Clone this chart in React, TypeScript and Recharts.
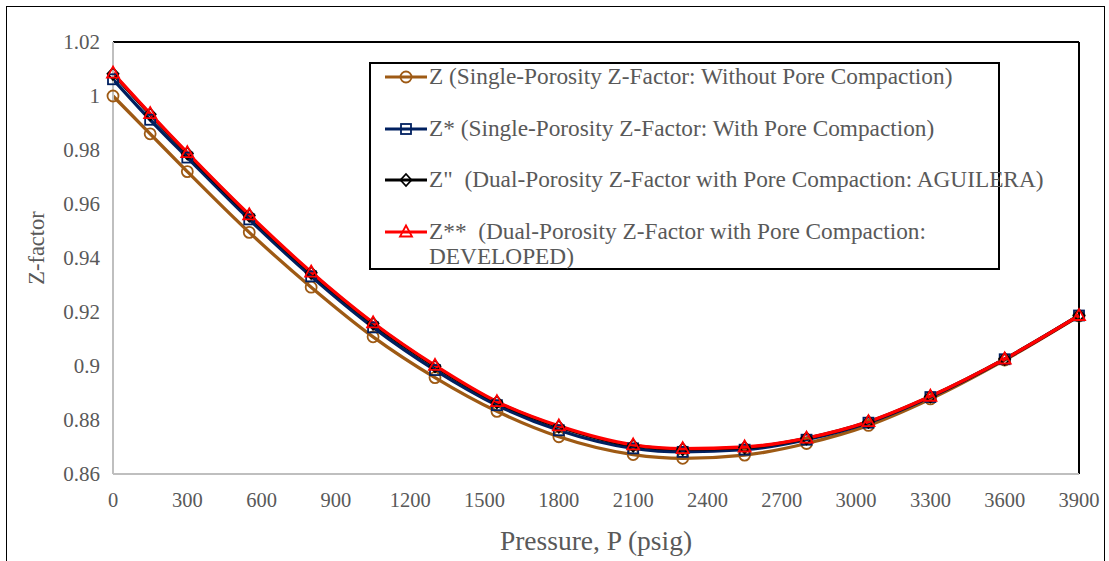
import React from 'react';
import { LineChart, Line, XAxis, YAxis, Legend, ReferenceLine } from 'recharts';

const pressures = [0, 150, 300, 550, 800, 1050, 1300, 1550, 1800, 2100, 2300, 2550, 2800, 3050, 3300, 3600, 3900];
const zSingle = [1.0, 0.986, 0.972, 0.9495, 0.9292, 0.9108, 0.8957, 0.8832, 0.8738, 0.8672, 0.8658, 0.867, 0.8713, 0.878, 0.8878, 0.9022, 0.9185];
const zSingleComp = [1.0062, 0.9912, 0.9772, 0.9543, 0.9332, 0.9143, 0.8985, 0.8855, 0.8762, 0.8695, 0.8682, 0.869, 0.8727, 0.879, 0.8885, 0.9025, 0.9187];
const zAguilera = [1.0082, 0.9932, 0.9787, 0.9557, 0.9345, 0.9157, 0.8999, 0.8866, 0.8775, 0.8705, 0.8692, 0.8698, 0.8732, 0.8793, 0.8887, 0.9026, 0.9187];
const zDeveloped = [1.0085, 0.9935, 0.979, 0.956, 0.9348, 0.916, 0.9002, 0.8868, 0.8778, 0.8708, 0.8694, 0.87, 0.8733, 0.8794, 0.8888, 0.9026, 0.9187];
const xTicks = [0, 300, 600, 900, 1200, 1500, 1800, 2100, 2400, 2700, 3000, 3300, 3600, 3900];
const yTicks = [0.86, 0.88, 0.9, 0.92, 0.94, 0.96, 0.98, 1, 1.02];
const seriesNames = [
  'Z (Single-Porosity Z-Factor: Without Pore Compaction)',
  'Z* (Single-Porosity Z-Factor: With Pore Compaction)',
  'Z"  (Dual-Porosity Z-Factor with Pore Compaction: AGUILERA)',
  'Z**  (Dual-Porosity Z-Factor with Pore Compaction:\nDEVELOPED)',
];
const seriesColors = ['#9E5A14', '#002060', '#000000', '#FF0000'];
const seriesKeys = ['z', 'zs', 'za', 'zd'];
const seriesMarkers = ['circle', 'square', 'diamond', 'triangle'];

const data = pressures.map((p, i) => ({
  p,
  z: zSingle[i],
  zs: zSingleComp[i],
  za: zAguilera[i],
  zd: zDeveloped[i],
}));

const FONT = '"Liberation Serif", "Times New Roman", serif';
const TEXT = '#595959';

function Marker({ kind, cx, cy, color }: { kind: string; cx: number; cy: number; color: string }) {
  if (cx == null || cy == null || isNaN(cx) || isNaN(cy)) return null;
  if (kind === 'circle') return <circle cx={cx} cy={cy} r={5.5} fill="none" stroke={color} strokeWidth={1.8} />;
  if (kind === 'square') return <rect x={cx - 5} y={cy - 5} width={10} height={10} fill="none" stroke={color} strokeWidth={1.8} />;
  if (kind === 'diamond')
    return <polygon points={`${cx},${cy - 6} ${cx + 5.5},${cy} ${cx},${cy + 6} ${cx - 5.5},${cy}`} fill="none" stroke={color} strokeWidth={1.8} />;
  return <polygon points={`${cx},${cy - 6.5} ${cx + 6},${cy + 4.5} ${cx - 6},${cy + 4.5}`} fill="none" stroke={color} strokeWidth={1.8} />;
}

const renderLegend = () => (
  <div
    style={{
      width: 631,
      height: 208,
      boxSizing: 'border-box',
      border: '2px solid #000',
      background: '#fff',
      fontFamily: FONT,
      fontSize: 23.3,
      color: TEXT,
      paddingTop: 0,
    }}
  >
    {seriesNames.map((name, i) => (
      <div key={i} style={{ display: 'flex', alignItems: 'flex-start', height: 51.7 }}>
        <svg width={46} height={26} style={{ marginLeft: 12, flex: 'none' }}>
          <line x1={2} y1={13} x2={44} y2={13} stroke={seriesColors[i]} strokeWidth={3} />
          <Marker kind={seriesMarkers[i]} cx={23} cy={13} color={seriesColors[i]} />
        </svg>
        <span style={{ lineHeight: '25px', marginLeft: 0, whiteSpace: 'pre' }}>{name}</span>
      </div>
    ))}
  </div>
);

const YTitle = (props: any) => {
  const vb = props.viewBox || {};
  const x = (vb.x || 0) + 36;
  const y = (vb.y || 0) + (vb.height || 0) / 2 - 10;
  return (
    <text x={x} y={y} transform={`rotate(-90, ${x}, ${y})`} textAnchor="middle" dominantBaseline="central" fill={TEXT} fontSize={22.5} fontFamily={FONT}>
      Z-factor
    </text>
  );
};

export default function App() {
  return (
    <div style={{ position: 'absolute', left: 0, top: 0, width: 1109, height: 561, background: '#fff', overflow: 'hidden' }}>
      <div style={{ position: 'absolute', left: 6, top: 6, width: 1099, height: 620, border: '1.5px solid #000', boxSizing: 'border-box' }} />
      <LineChart width={1109} height={561} data={data} margin={{ top: 42, right: 30, bottom: 0, left: 0 }} style={{ position: 'absolute', left: 0, top: 0 }}>
        <XAxis
          dataKey="p"
          type="number"
          domain={[0, 3900]}
          ticks={xTicks}
          interval={0}
          height={87}
          tickSize={0}
          tickMargin={18}
          axisLine={{ stroke: '#BFBFBF', strokeWidth: 2 }}
          tickLine={false}
          tick={{ fill: TEXT, fontSize: 20.5, fontFamily: FONT }}
          label={{ value: 'Pressure, P (psig)', position: 'insideBottom', offset: 11, fill: TEXT, fontSize: 27.5, fontFamily: FONT }}
        />
        <YAxis
          type="number"
          domain={[0.86, 1.02]}
          ticks={yTicks}
          interval={0}
          width={113}
          tickSize={0}
          tickMargin={13}
          axisLine={{ stroke: '#BFBFBF', strokeWidth: 2 }}
          tickLine={false}
          tick={{ fill: TEXT, fontSize: 21, fontFamily: FONT }}
          label={<YTitle />}
        />
        <ReferenceLine y={1.02} stroke="#000" strokeWidth={2} />
        <ReferenceLine x={3900} stroke="#000" strokeWidth={2} />
        {seriesKeys.map((k, i) => (
          <Line
            key={k}
            dataKey={k}
            name={seriesNames[i]}
            type="monotone"
            stroke={seriesColors[i]}
            strokeWidth={3.3}
            isAnimationActive={false}
            dot={(p: any) => <Marker key={`${k}-${p.index}`} kind={seriesMarkers[i]} cx={p.cx} cy={p.cy} color={seriesColors[i]} />}
            activeDot={false}
          />
        ))}
        <Legend
          layout="vertical"
          align="center"
          verticalAlign="middle"
          content={renderLegend}
          wrapperStyle={{ position: 'absolute', left: 369, top: 62, width: 631, height: 208 }}
        />
      </LineChart>
    </div>
  );
}
